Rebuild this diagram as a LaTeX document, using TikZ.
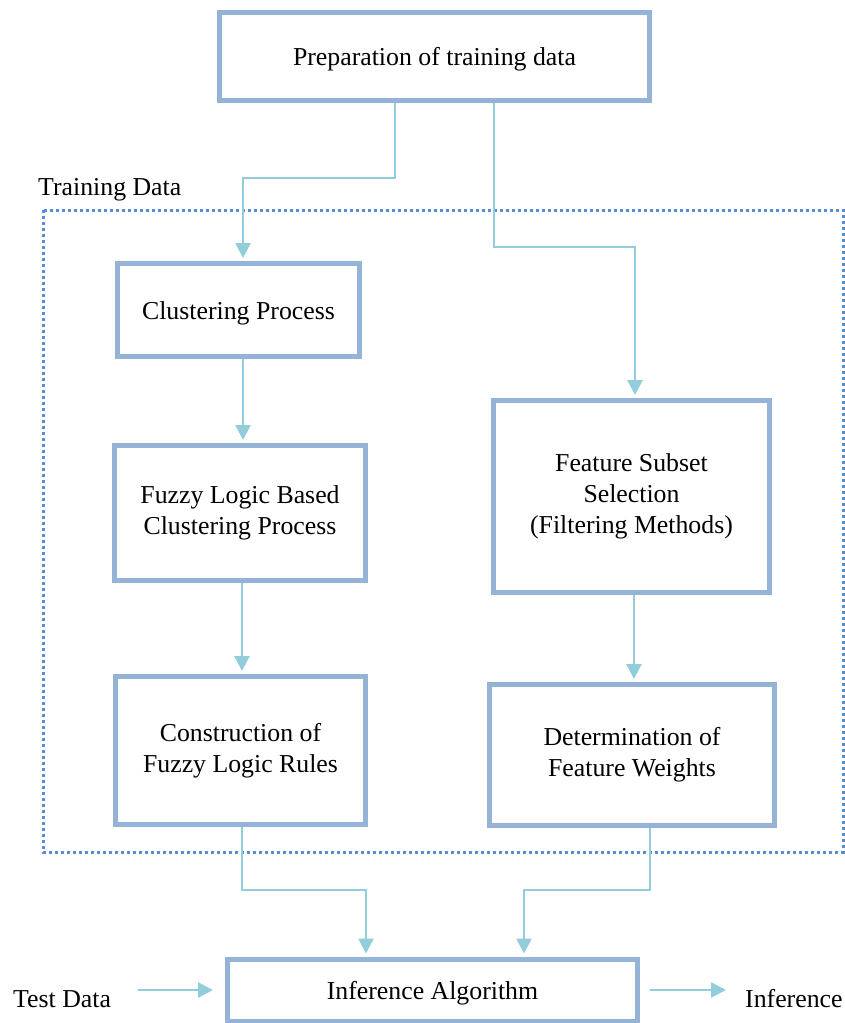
\documentclass[tikz,border=0pt]{standalone}
\usepackage{fontspec}
\setmainfont{Liberation Serif}
\usetikzlibrary{arrows.meta}
\definecolor{boxblue}{RGB}{149,179,215}
\definecolor{arrblue}{RGB}{146,205,220}
\definecolor{dotblue}{RGB}{85,142,213}
\begin{document}
\begin{tikzpicture}[x=1pt,y=-1pt,
  every node/.style={font=\fontsize{25.8}{31}\selectfont},
  procbox/.style={draw=boxblue, line width=5pt, fill=white, align=center, inner sep=0pt,
    execute at begin node={\rule{0pt}{24.5pt}}},
  arr/.style={draw=arrblue, line width=2.5pt, shorten >=3pt, -{Triangle[length=15pt,width=15pt]}},
  lbl/.style={inner sep=0pt, anchor=base west}]
\useasboundingbox (0,0) rectangle (845,1023);
\fill[white] (0,0) rectangle (845,1023);
\draw[dotblue, line width=3pt, dash pattern=on 3pt off 3pt] (43,210) rectangle (843,852);
\node[lbl] (tdlabel) at (38,195) {Training Data};

\node[procbox, minimum width=430pt, minimum height=88pt] (prep) at (434.5,56.5) {Preparation of training data};
\node[procbox, minimum width=242pt, minimum height=93pt] (clust) at (238.5,310) {Clustering Process};
\node[procbox, minimum width=251pt, minimum height=135pt] (fuzzy) at (240,513) {Fuzzy Logic Based\\Clustering Process};
\node[procbox, minimum width=250pt, minimum height=148pt] (constr) at (240.5,750.5) {Construction of\\Fuzzy Logic Rules};
\node[procbox, minimum width=276pt, minimum height=192pt] (feat) at (631.5,496.5) {Feature Subset\\Selection\\(Filtering Methods)};
\node[procbox, minimum width=285pt, minimum height=141pt] (det) at (632,755) {Determination of\\Feature Weights};
\node[procbox, minimum width=410pt, minimum height=62pt] (infer) at (432.5,990) {Inference Algorithm};
\node[lbl] (test) at (13,1007) {Test Data};
\node[lbl] (out) at (745,1007) {Inference};

\coordinate (b1) at (243,178);
\coordinate (b2) at (635,247);
\coordinate (b3) at (366,890);
\coordinate (b4) at (524,890);

\draw[arr] (prep.south -| 395,0) |- (b1) -- (clust.north -| b1);
\draw[arr] (prep.south -| 494,0) |- (b2) -- (feat.north -| b2);
\draw[arr] (clust.south -| 243,0) -- (fuzzy.north -| 243,0);
\draw[arr] (fuzzy.south -| 242,0) -- (constr.north -| 242,0);
\draw[arr] (feat.south -| 634,0) -- (det.north -| 634,0);
\draw[arr] (constr.south -| 242,0) |- (b3) -- (infer.north -| b3);
\draw[arr] (det.south -| 650,0) |- (b4) -- (infer.north -| b4);
\draw[arr, shorten <=27pt, shorten >=12pt] (test.east |- infer.west) -- (infer.west);
\draw[arr, shorten <=10pt, shorten >=19pt] (infer.east) -- (out.west |- infer.east);
\end{tikzpicture}
\end{document}
